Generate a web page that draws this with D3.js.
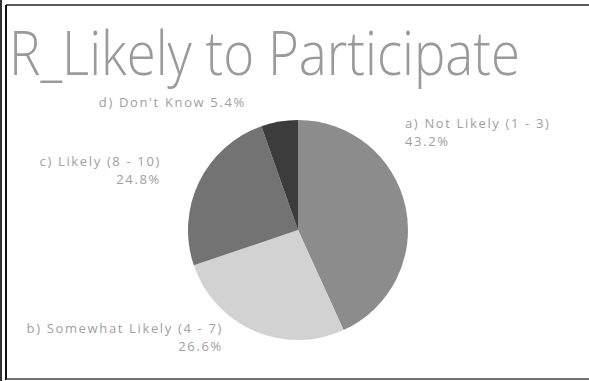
<!DOCTYPE html>
<html lang="en">
<head>
  <meta charset="UTF-8">
  <title>R_Likely to Participate</title>
  <script src="https://d3js.org/d3.v7.min.js"></script>
  <style>
    body { margin: 0; background: #fff; }
    svg { display: block; }
    .title { font-family: "Open Sans", sans-serif; font-weight: 300; fill: #9a9a9a; }
    .lbl { font-family: "Open Sans", sans-serif; font-size: 13px; letter-spacing: 1.65px; fill: #a0a0a0; }
  </style>
</head>
<body>
<svg id="chart" width="589" height="381"></svg>
<script>
  // data
  const categories = ["a) Not Likely (1 - 3)", "b) Somewhat Likely (4 - 7)", "c) Likely (8 - 10)", "d) Don't Know"];
  const percents = [43.2, 26.6, 24.8, 5.4];
  const shades = ["#8c8c8c", "#d2d2d2", "#737373", "#3c3c3c"];

  const svg = d3.select("#chart");

  // frame
  svg.append("line").attr("x1", 1).attr("x2", 1).attr("y1", 0).attr("y2", 381).attr("stroke", "#333").attr("stroke-width", 2);
  svg.append("line").attr("x1", 6).attr("x2", 6).attr("y1", 5).attr("y2", 380).attr("stroke", "#111").attr("stroke-width", 2);
  svg.append("line").attr("x1", 6).attr("x2", 589).attr("y1", 5).attr("y2", 5).attr("stroke", "#222").attr("stroke-width", 1.5);
  svg.append("line").attr("x1", 6).attr("x2", 589).attr("y1", 379).attr("y2", 379).attr("stroke", "#444").attr("stroke-width", 1.5);

  svg.append("text").attr("class", "title")
    .attr("x", 9).attr("y", 75)
    .style("font-size", "60px")
    .attr("textLength", 511)
    .attr("lengthAdjust", "spacingAndGlyphs")
    .text("R_Likely to Participate");

  const cx = 298, cy = 230, r = 110;
  const pie = d3.pie().sort(null).value(d => d);
  const arc = d3.arc().innerRadius(0).outerRadius(r);
  const arcs = pie(percents);

  const g = svg.append("g").attr("transform", `translate(${cx},${cy})`);
  g.selectAll("path").data(arcs).enter().append("path")
    .attr("d", arc)
    .attr("fill", (d, i) => shades[i]);

  // labels: name on one line, share below
  const lab = svg.append("g");
  const twoLine = (name, pct, x, y, anchor) => {
    lab.append("text").attr("class", "lbl").attr("x", x).attr("y", y).attr("text-anchor", anchor).text(name);
    lab.append("text").attr("class", "lbl").attr("x", x).attr("y", y + 18).attr("text-anchor", anchor).text(pct.toFixed(1) + "%");
  };
  twoLine(categories[0], percents[0], 405, 128, "start");
  twoLine(categories[2], percents[2], 161, 166, "end");
  twoLine(categories[1], percents[1], 223, 333, "end");
  lab.append("text").attr("class", "lbl").attr("x", 246).attr("y", 107).attr("text-anchor", "end").text(categories[3] + " " + percents[3].toFixed(1) + "%");
</script>
</body>
</html>
